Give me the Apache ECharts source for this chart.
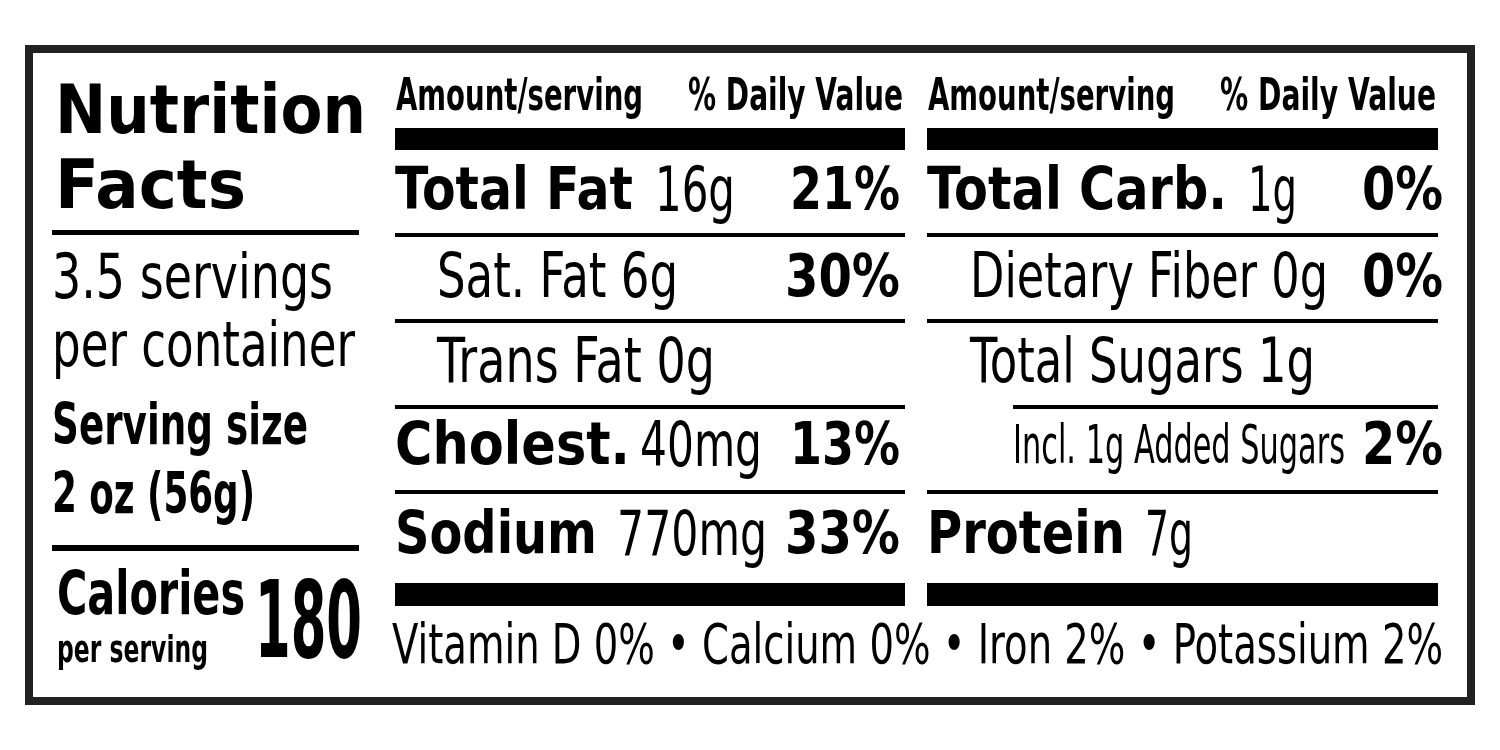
<!DOCTYPE html>
<html><head><meta charset="utf-8">
<script src="https://cdn.jsdelivr.net/npm/echarts@6/dist/echarts.min.js"></script>
<style>html,body{margin:0;padding:0;background:#fff}#c{width:1500px;height:750px}</style>
</head><body><div id="c"></div>
<script>
// label data
const headerTexts = ["Amount/serving", "% Daily Value"];
const leftNames = ["Total Fat", "Sat. Fat 6g", "Trans Fat 0g", "Cholest.", "Sodium"];
const leftAmounts = ["16g", "", "", "40mg", "770mg"];
const leftDV = ["21%", "30%", "", "13%", "33%"];
const rightNames = ["Total Carb.", "Dietary Fiber 0g", "Total Sugars 1g", "Incl. 1g Added Sugars", "Protein"];
const rightAmounts = ["1g", "", "", "", "7g"];
const rightDV = ["0%", "0%", "", "2%", ""];
const footer = "Vitamin D 0% \u2022 Calcium 0% \u2022 Iron 2% \u2022 Potassium 2%";
const calories = "180";

const FAM = "'DejaVu Sans',sans-serif";
const ctx = document.createElement('canvas').getContext('2d');
const els = [];
// draw text squeezed/stretched horizontally to span x0..x1
function fit(x0, x1, y, s, size, bold) {
  const font = (bold ? 'bold ' : '') + size + 'px ' + FAM;
  ctx.font = font;
  const w = ctx.measureText(s).width;
  els.push({type: 'text', x: x0, y: y, scaleX: (x1 - x0) / w, originX: 0,
    style: {text: s, font: font, fill: '#000', textAlign: 'left', textVerticalAlign: 'middle'}});
}
function rect(x, y, w, h) {
  els.push({type: 'rect', shape: {x: x, y: y, width: w, height: h}, style: {fill: '#000'}});
}
els.push({type: 'rect', shape: {x: 29, y: 49, width: 1442, height: 652}, style: {fill: '#fff', stroke: '#222', lineWidth: 8}});

// left block
fit(55, 366, 115, "Nutrition", 68, true);
fit(55, 246, 190, "Facts", 68, true);
rect(52, 230, 307, 5);
fit(52, 333, 282, "3.5 servings", 62);
fit(52, 355, 350, "per container", 62);
fit(52, 308, 429, "Serving size", 57, true);
fit(52, 255, 498, "2 oz (56g)", 57, true);
rect(52, 545, 307, 6);
fit(57, 245, 598, "Calories", 60, true);
fit(57, 208, 652, "per serving", 38, true);
fit(255, 362, 629, calories, 107, true);

const rowY = [194, 281, 366, 449, 538];
const lineY = [235, 321, 407, 492];
// x spans per row: [name start, name end, amount start, amount end, dv start, dv end]
const leftSpans = [[395, 633, 655, 735, 790, 900], [437, 678, 0, 0, 785, 900], [437, 715, 0, 0, 0, 0],
  [395, 630, 640, 762, 790, 900], [395, 597, 617, 767, 785, 900]];
const rightSpans = [[927, 1227, 1248, 1297, 1362, 1443], [970, 1328, 0, 0, 1362, 1443], [970, 1315, 0, 0, 0, 0],
  [1013, 1345, 0, 0, 1362, 1443], [927, 1125, 1145, 1193, 0, 0]];
function column(x0, x1, hdr, names, amts, dvs, spans, isRight) {
  fit(hdr[0], hdr[1], 99, headerTexts[0], 44, true);
  fit(hdr[2], hdr[3], 99, headerTexts[1], 44, true);
  rect(x0, 128, x1 - x0, 22);
  names.forEach((n, i) => {
    const sp = spans[i], y = rowY[i];
    const bold = amts[i] !== "";
    const small = isRight && i === 3;
    fit(sp[0], sp[1], y, n, bold ? 59 : (small ? 54 : 62), bold);
    if (amts[i]) fit(sp[2], sp[3], y + 1, amts[i], 62);
    if (dvs[i]) fit(sp[4], sp[5], y, dvs[i], 59, true);
  });
  lineY.forEach((ly, i) => {
    const start = (isRight && i === 2) ? 1013 : x0;
    rect(start, ly - 2, x1 - start, 4);
  });
  rect(x0, 583, x1 - x0, 23);
}
column(395, 905, [396, 643, 688, 903], leftNames, leftAmounts, leftDV, leftSpans, false);
column(927, 1438, [928, 1175, 1220, 1436], rightNames, rightAmounts, rightDV, rightSpans, true);
fit(392, 1443, 648, footer, 56);

const chart = echarts.init(document.getElementById('c'));
chart.setOption({animation: false, graphic: {elements: els}});
</script></body></html>
